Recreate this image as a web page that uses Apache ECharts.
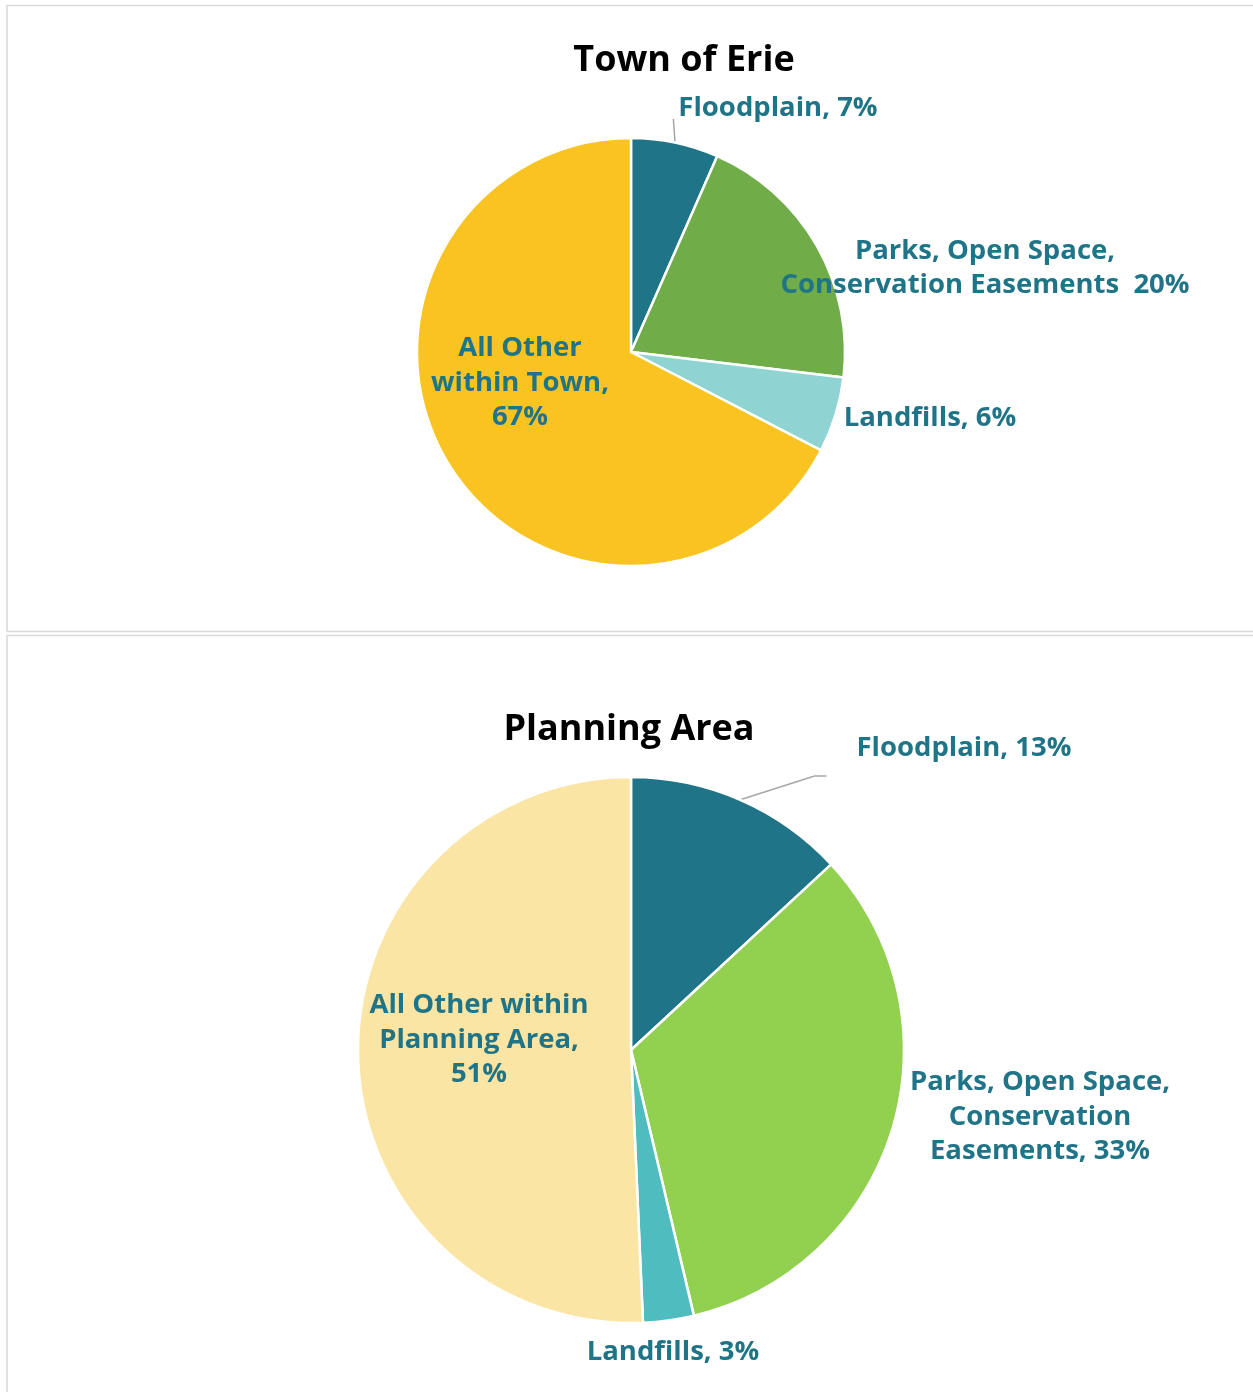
<!DOCTYPE html>
<html>
<head>
<meta charset="utf-8">
<title>Town of Erie / Planning Area</title>
<script src="https://cdn.jsdelivr.net/npm/echarts@6/dist/echarts.min.js"></script>
<style>
  html, body { margin: 0; padding: 0; background: #fff; }
  #chart { width: 1253px; height: 1392px; }
</style>
</head>
<body>
<div id="chart"></div>
<script>
'use strict';

// categories
var townNames = ['Floodplain', 'Parks, Open Space,\nConservation Easements', 'Landfills', 'All Other\nwithin Town'];
var townSep = [', ', '  ', ', ', ',\n'];
var townValues = [6.6, 20.3, 5.7, 67.4];
var townColors = ['#1f7587', '#70ac47', '#8fd3d3', '#f9c322'];

var planNames = ['Floodplain', 'Parks, Open Space,\nConservation\nEasements', 'Landfills', 'All Other within\nPlanning Area'];
var planSep = [', ', ', ', ', ', ',\n'];
var planValues = [13.1, 33.2, 3.0, 50.7];
var planColors = ['#1f7587', '#92d050', '#4fbcbf', '#fae5a5'];

// label centres (layout only)
var townLabelPos = [[778, 108], [985, 268], [930, 418], [520, 383]];
var planLabelPos = [[964, 748], [1040, 1117], [673, 1352], [479, 1040]];

var labelColor = '#1f7587';
var font = '"Open Sans", Lato, sans-serif';

var chart = echarts.init(document.getElementById('chart'), null, { renderer: 'canvas' });

function buildData(names, values, colors) {
    var out = [];
    for (var i = 0; i < names.length; i++) {
        out.push({
            name: names[i],
            value: values[i],
            itemStyle: { color: colors[i] },
            labelLine: { show: i === 0 }
        });
    }
    return out;
}

function pieSeries(names, seps, values, colors, center, radius, pos, lineFn) {
    return {
        type: 'pie',
        center: center,
        radius: radius,
        startAngle: 90,
        clockwise: true,
        avoidLabelOverlap: false,
        animation: false,
        silent: true,
        itemStyle: { borderColor: '#fff', borderWidth: 2.5 },
        label: {
            show: true,
            position: 'outside',
            color: labelColor,
            fontFamily: font,
            fontWeight: 'bold',
            fontSize: 27.5,
            lineHeight: 34.5,
            align: 'center',
            formatter: function (p) {
                return p.name + seps[p.dataIndex] + Math.round(p.percent) + '%';
            }
        },
        labelLine: {
            show: true,
            lineStyle: { color: '#a6a6a6', width: 1.5 }
        },
        labelLayout: function (p) {
            var c = pos[p.dataIndex];
            var res = { x: c[0], y: c[1], align: 'center', verticalAlign: 'middle' };
            if (p.dataIndex === 0 && p.labelLinePoints) {
                var w = p.labelRect.width;
                var left = c[0] - w / 2;
                res.labelLinePoints = lineFn(p.labelLinePoints[0], left, c[1]);
            }
            return res;
        },
        data: buildData(names, values, colors)
    };
}

var option = {
    backgroundColor: '#fff',
    title: [{
        text: 'Town of Erie',
        left: 679,
        top: 56,
        textAlign: 'center',
        textVerticalAlign: 'middle',
        textStyle: { fontFamily: font, fontWeight: 'bold', fontSize: 36, color: '#000' }
    }, {
        text: 'Planning Area',
        left: 624,
        top: 725,
        textAlign: 'center',
        textVerticalAlign: 'middle',
        textStyle: { fontFamily: font, fontWeight: 'bold', fontSize: 36, color: '#000' }
    }],
    graphic: [{
        type: 'rect',
        silent: true,
        shape: { x: 7, y: 5.5, width: 1300, height: 626 },
        style: { fill: 'none', stroke: '#d9d9d9', lineWidth: 1.5 }
    }, {
        type: 'rect',
        silent: true,
        shape: { x: 7, y: 635.5, width: 1300, height: 800 },
        style: { fill: 'none', stroke: '#d9d9d9', lineWidth: 1.5 }
    }],
    series: [
        pieSeries(townNames, townSep, townValues, townColors, [631, 352], 214, townLabelPos,
            function (start, left, cy) {
                return [start, [left - 5, cy + 11]];
            }),
        pieSeries(planNames, planSep, planValues, planColors, [631, 1050], 273, planLabelPos,
            function (start, left, cy) {
                return [start, [left - 42, cy + 28], [left - 30, cy + 28]];
            })
    ]
};

chart.setOption(option);
</script>
</body>
</html>
